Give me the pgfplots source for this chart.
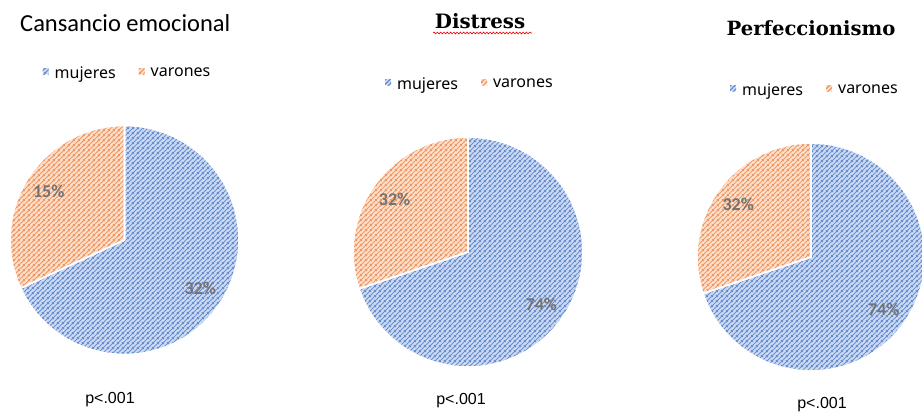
\documentclass[border=0pt]{standalone}
\usepackage{fontspec}
\setmainfont{Carlito}
\newfontfamily\titleserif{DejaVu Serif}
\newfontfamily\legfont{Noto Sans}
\newfontfamily\pfont{Liberation Sans}
\usepackage{pgfplots}
\pgfplotsset{compat=1.18}
\usetikzlibrary{patterns,decorations.pathmorphing}

\definecolor{mujbg}{RGB}{208,220,242}
\definecolor{mujln}{RGB}{104,142,210}
\definecolor{varbg}{RGB}{252,226,208}
\definecolor{varln}{RGB}{241,152,98}
\definecolor{lblgray}{RGB}{115,115,115}

% wide upward diagonal hatch
\pgfdeclarepatternformonly{hatch}{\pgfpoint{0bp}{0bp}}{\pgfpoint{4.5bp}{4.5bp}}{\pgfpoint{4.5bp}{4.5bp}}{%
  \pgfsetlinewidth{1.15bp}%
  \pgfpathmoveto{\pgfpoint{-1bp}{-1bp}}\pgfpathlineto{\pgfpoint{5.5bp}{5.5bp}}%
  \pgfpathmoveto{\pgfpoint{3.5bp}{-1bp}}\pgfpathlineto{\pgfpoint{5.5bp}{1bp}}%
  \pgfpathmoveto{\pgfpoint{-1bp}{3.5bp}}\pgfpathlineto{\pgfpoint{1bp}{5.5bp}}%
  \pgfusepath{stroke}}

% values of each pie: mujeres, varones (as printed on the chart)
\newcommand\setpie[2]{%
  \def\vM{#1}\def\vV{#2}%
  \pgfmathsetmacro\frac{#1/(#1+#2)}%
  \pgfmathsetmacro\angM{90-360*\frac}%
  \pgfmathsetmacro\midM{(\angM+90)/2}%
  \pgfmathsetmacro\midV{(\angM+450)/2}%
  \pgfmathsetmacro\endV{\angM+360}%
  \pgfmathsetmacro\lxM{0.785*cos(\midM)}\pgfmathsetmacro\lyM{0.785*sin(\midM)}%
  \pgfmathsetmacro\lxV{0.785*cos(\midV)}\pgfmathsetmacro\lyV{0.785*sin(\midV)}%
}

\pgfplotsset{
  mujfill/.style={draw=none, fill=mujbg, postaction={pattern=hatch, pattern color=mujln}},
  varfill/.style={draw=none, fill=varbg, postaction={pattern=hatch, pattern color=varln}},
  pie/.style={scale only axis, hide axis, clip=false, anchor=center,
    xmin=-1, xmax=1, ymin=-1, ymax=1,
    legend columns=2,
    legend image code/.code={\path[##1] (0bp,-1bp) rectangle (6bp,5bp);},
    legend style={draw=none, fill=none, anchor=center, inner sep=0pt,
      font=\legfont\fontsize{16bp}{19bp}\selectfont,
      nodes={inner sep=0pt},
      /tikz/every odd column/.append style={column sep=6bp},
      /tikz/every even column/.append style={column sep=23bp}},
  },
  slice/.style={forget plot, samples=90, variable=\t},
}

% each slice: light ground, hatch on top, white border last
\newcommand\drawpie{%
  \addplot[slice, draw=none, fill=mujbg, domain=\angM:90] ({cos(\t)},{sin(\t)}) -- (axis cs:0,0) -- cycle;
  \addplot[slice, draw=none, pattern=hatch, pattern color=mujln, domain=\angM:90] ({cos(\t)},{sin(\t)}) -- (axis cs:0,0) -- cycle;
  \addplot[slice, draw=none, fill=varbg, domain=90:\endV] ({cos(\t)},{sin(\t)}) -- (axis cs:0,0) -- cycle;
  \addplot[slice, draw=none, pattern=hatch, pattern color=varln, domain=90:\endV] ({cos(\t)},{sin(\t)}) -- (axis cs:0,0) -- cycle;
  \addplot[slice, draw=white, line width=1.6bp, domain=\angM:90] ({cos(\t)},{sin(\t)}) -- (axis cs:0,0) -- cycle;
  \addplot[slice, draw=white, line width=1.6bp, domain=90:\endV] ({cos(\t)},{sin(\t)}) -- (axis cs:0,0) -- cycle;
  \addlegendimage{mujfill}\addlegendentry{mujeres}
  \addlegendimage{varfill}\addlegendentry{varones}
  \node[font=\bfseries\fontsize{18bp}{20bp}\selectfont, text=lblgray] at (axis cs:\lxM,\lyM) {\vM\%};
  \node[font=\bfseries\fontsize{18bp}{20bp}\selectfont, text=lblgray] at (axis cs:\lxV,\lyV) {\vV\%};
}

\begin{document}
\begin{tikzpicture}[x=1bp, y=1bp]
\useasboundingbox (0,0) rectangle (922,411);
\clip (0,0) rectangle (922,411);
\coordinate (c1) at (124.5,171);
\coordinate (c2) at (468,159);
\coordinate (c3) at (811,154);

% titles
\node[anchor=base west, inner sep=0pt, font=\fontsize{24.5bp}{28bp}\selectfont] at (20,380) {Cansancio emocional};
\node[anchor=base, inner sep=0pt, font=\titleserif\bfseries\fontsize{19.8bp}{23bp}\selectfont] at (480,383) {Distress};
\draw[red!90!black, line width=0.6bp, decorate, decoration={snake, segment length=3.3bp, amplitude=0.9bp}] (433,378) -- (532,378);
\node[anchor=base, inner sep=0pt, font=\titleserif\bfseries\fontsize{19.6bp}{23bp}\selectfont] at (811,376) {Perfeccionismo};

% Cansancio emocional
\setpie{32}{15}
\begin{axis}[pie, at={(c1)}, width=229bp, height=229bp,
  legend style={at={(0.509,1.229)}}]
\drawpie
\end{axis}

% Distress
\setpie{74}{32}
\begin{axis}[pie, at={(c2)}, width=230bp, height=230bp,
  legend style={at={(0.504,1.230)}}]
\drawpie
\end{axis}

% Perfeccionismo
\setpie{74}{32}
\begin{axis}[pie, at={(c3)}, width=228bp, height=228bp,
  legend style={at={(0.513,1.232)}}]
\drawpie
\end{axis}

% p-values
\node[anchor=base, inner sep=0pt, font=\pfont\fontsize{16bp}{19bp}\selectfont] at (110,8) {p<.001};
\node[anchor=base, inner sep=0pt, font=\pfont\fontsize{16bp}{19bp}\selectfont] at (461,7) {p<.001};
\node[anchor=base, inner sep=0pt, font=\pfont\fontsize{16bp}{19bp}\selectfont] at (822,3) {p<.001};
\end{tikzpicture}
\end{document}
